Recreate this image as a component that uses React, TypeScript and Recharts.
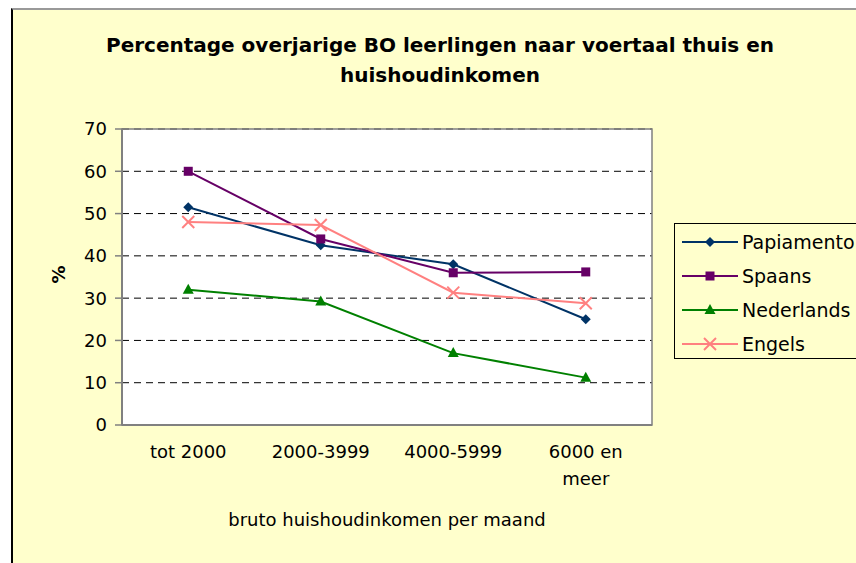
import { CartesianGrid, Line, LineChart, ReferenceArea, XAxis, YAxis } from "recharts"

const categories = ["tot 2000", "2000-3999", "4000-5999", "6000 en\nmeer"]
const papiamento = [51.5, 42.5, 38, 25]
const spaans = [60, 44, 36, 36.2]
const nederlands = [32, 29.2, 17, 11.2]
const engels = [48, 47.3, 31.3, 28.8]
const yTicks = [0, 10, 20, 30, 40, 50, 60, 70]
const bandTicks = [0, 1, 2, 3, 4]

const series = [
  { key: "papiamento", name: "Papiamento", color: "#003366", shape: "diamond" },
  { key: "spaans", name: "Spaans", color: "#660066", shape: "square" },
  { key: "nederlands", name: "Nederlands", color: "#008000", shape: "triangle" },
  { key: "engels", name: "Engels", color: "#FF8080", shape: "cross" },
]

const data = categories.map((c, i) => ({
  cat: c,
  papiamento: papiamento[i],
  spaans: spaans[i],
  nederlands: nederlands[i],
  engels: engels[i],
}))

const FONT = "'DejaVu Sans', Verdana, sans-serif"

function Marker({ shape, color, cx, cy }: { shape: string; color: string; cx: number; cy: number }) {
  if (shape === "diamond")
    return <polygon points={`${cx},${cy - 5} ${cx + 5},${cy} ${cx},${cy + 5} ${cx - 5},${cy}`} fill={color} />
  if (shape === "square") return <rect x={cx - 4.5} y={cy - 4.5} width={9} height={9} fill={color} />
  if (shape === "triangle")
    return <polygon points={`${cx},${cy - 6} ${cx + 5.5},${cy + 4} ${cx - 5.5},${cy + 4}`} fill={color} />
  return (
    <g stroke={color} strokeWidth={2}>
      <line x1={cx - 6} y1={cy - 6} x2={cx + 6} y2={cy + 6} />
      <line x1={cx - 6} y1={cy + 6} x2={cx + 6} y2={cy - 6} />
    </g>
  )
}

function CatTick(props: any) {
  const { x, y, payload } = props
  const lines = String(payload.value).split("\n")
  return (
    <text x={x} y={y + 25} textAnchor="middle" fontSize={18} fontFamily={FONT} fill="#000">
      {lines.map((l, i) => (
        <tspan key={i} x={x} dy={i === 0 ? 0 : 27}>
          {l}
        </tspan>
      ))}
    </text>
  )
}

function LegendBox() {
  return (
    <div
      style={{
        position: "absolute",
        left: 674,
        top: 223,
        width: 200,
        height: 136,
        boxSizing: "border-box",
        border: "1px solid #000",
        background: "#FFFFCC",
        paddingTop: 1,
        fontFamily: FONT,
        fontSize: 19,
      }}
    >
      {series.map((s) => (
        <div key={s.key} style={{ display: "flex", alignItems: "center", height: 34 }}>
          <svg width={62} height={20} style={{ marginLeft: 5, flexShrink: 0 }}>
            <line x1={2} y1={10} x2={58} y2={10} stroke={s.color} strokeWidth={2} />
            <Marker shape={s.shape} color={s.color} cx={30} cy={10} />
          </svg>
          <span style={{ marginLeft: 0, whiteSpace: "nowrap" }}>{s.name}</span>
        </div>
      ))}
    </div>
  )
}

export default function App() {
  return (
    <div style={{ position: "fixed", left: 0, top: 0, width: 856, height: 563, background: "#fff", overflow: "hidden" }}>
      <div
        style={{
          position: "absolute",
          left: 11,
          top: 8,
          width: 860,
          height: 570,
          background: "#FFFFCC",
          borderLeft: "2px solid #000",
          borderTop: "2px solid #999",
        }}
      />
      <div
        style={{
          position: "absolute",
          left: 40,
          top: 30,
          width: 800,
          textAlign: "center",
          fontFamily: FONT,
          fontWeight: "bold",
          fontSize: 20,
          lineHeight: "30px",
        }}
      >
        Percentage overjarige BO leerlingen naar voertaal thuis en
        <br />
        huishoudinkomen
      </div>
      <div
        style={{
          position: "absolute",
          left: 48,
          top: 264,
          width: 20,
          textAlign: "center",
          transform: "rotate(-90deg)",
          fontFamily: FONT,
          fontWeight: "bold",
          fontSize: 18,
        }}
      >
        %
      </div>
      <div
        style={{
          position: "absolute",
          left: 187,
          top: 509,
          width: 400,
          textAlign: "center",
          fontFamily: FONT,
          fontSize: 18,
        }}
      >
        bruto huishoudinkomen per maand
      </div>
      <div style={{ position: "absolute", left: 0, top: 0 }}>
        <LineChart width={856} height={563} data={data} margin={{ top: 129, right: 204, bottom: 78, left: 62 }}>
          <CartesianGrid vertical={false} stroke="#000" strokeDasharray="7 5" fill="#fff" />
          <XAxis
            xAxisId="band"
            type="number"
            domain={[0, 4]}
            ticks={bandTicks}
            height={0}
            tickSize={7}
            tickFormatter={() => ""}
            axisLine={false}
            tickLine={{ stroke: "#808080", strokeWidth: 1.5 }}
          />
          <XAxis
            dataKey="cat"
            scale="band"
            height={60}
            tickLine={false}
            axisLine={{ stroke: "#808080", strokeWidth: 2 }}
            tick={<CatTick />}
            interval={0}
          />
          <YAxis
            domain={[0, 70]}
            ticks={yTicks}
            width={60}
            tickSize={7}
            tickMargin={8}
            axisLine={{ stroke: "#808080", strokeWidth: 2 }}
            tickLine={{ stroke: "#808080", strokeWidth: 1.5 }}
            tick={{ fontSize: 18, fontFamily: FONT, fill: "#000" }}
          />
          <ReferenceArea y1={0} y2={70} fill="none" stroke="#808080" strokeWidth={1.5} ifOverflow="visible" />
          {series.map((s) => (
            <Line
              key={s.key}
              dataKey={s.key}
              name={s.name}
              stroke={s.color}
              strokeWidth={2}
              isAnimationActive={false}
              dot={(p: any) => <Marker key={`${s.key}-${p.index}`} shape={s.shape} color={s.color} cx={p.cx} cy={p.cy} />}
              activeDot={false}
            />
          ))}
        </LineChart>
      </div>
      <LegendBox />
    </div>
  )
}
